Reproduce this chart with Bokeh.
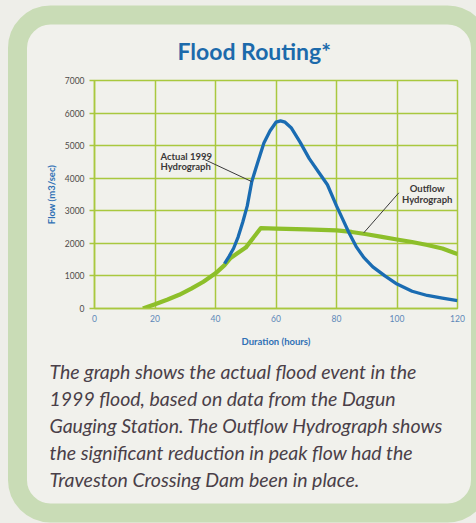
from urllib.parse import quote
from bokeh.plotting import figure
from bokeh.models import Label, FixedTicker, Range1d, Title
from bokeh.embed import file_html
from bokeh.resources import INLINE

# ---- data ----
hours_actual = [43, 44.5, 46, 47.5, 49, 50.5, 52, 54, 56, 58, 60, 61.5, 63, 65, 68, 71, 74, 77,
                80, 82, 84, 86.5, 89, 92, 96, 100, 105, 110, 115, 120]
flow_actual = [1380, 1600, 1850, 2200, 2650, 3150, 3900, 4500, 5080, 5450, 5720, 5760, 5720, 5550,
               5100, 4600, 4200, 3800, 3150, 2750, 2350, 1900, 1570, 1280, 1000, 750, 530, 400, 320, 240]
hours_outflow = [16, 20, 24, 28, 32, 36, 40, 43, 45, 47, 50, 55, 60, 70, 80, 85, 90, 95, 100, 105,
                 110, 115, 120]
flow_outflow = [0, 130, 270, 420, 610, 820, 1080, 1330, 1550, 1680, 1870, 2470, 2450, 2430, 2400,
                2350, 2280, 2200, 2120, 2040, 1950, 1840, 1670]
x_ticks = [0, 20, 40, 60, 80, 100, 120]
y_ticks = [0, 1000, 2000, 3000, 4000, 5000, 6000, 7000]

title_text = "Flood Routing*"
caption_lines = [
    "The graph shows the actual flood event in the",
    "1999 flood, based on data from the Dagun",
    "Gauging Station. The Outflow Hydrograph shows",
    "the significant reduction in peak flow had the",
    "Traveston Crossing Dam been in place.",
]

# ---- style ----
PAGE = "#eeeee9"
BG = "#f1f1ec"
BAND = "#c9dcb6"
GRID = "#a9c83e"
BLUE_LINE = "#1a6cb2"
GREEN_LINE = "#8dbf2a"
TITLE_BLUE = "#1c6aab"
LABEL_BLUE = "#2f70b5"
TEXT_DARK = "#4a3f48"
FONT = "Lato"

W, H = 476, 523
FRAME_L, FRAME_R, FRAME_T, FRAME_B = 94, 457, 80, 308

# pixel -> data helpers for in-frame annotations
def fx(px):
    return (px - FRAME_L) * 120.0 / (FRAME_R - FRAME_L)

def fy(py):
    return (FRAME_B - py) * 7000.0 / (FRAME_B - FRAME_T)

band_svg = (f"<svg xmlns='http://www.w3.org/2000/svg' width='{W}' height='{H}'>"
            f"<rect x='17.5' y='15' width='463' height='498' rx='33' ry='33' "
            f"fill='{BG}' stroke='{BAND}' stroke-width='19'/></svg>")

p = figure(width=W, height=H, x_range=Range1d(0, 120), y_range=Range1d(0, 7000),
           output_backend="svg", toolbar_location=None,
           min_border_left=FRAME_L, min_border_right=W - FRAME_R,
           min_border_top=FRAME_T, min_border_bottom=H - FRAME_B)
p.styles = {"background": f"{PAGE} url(\"data:image/svg+xml,{quote(band_svg)}\") no-repeat"}
p.background_fill_color = BG
p.border_fill_color = None
p.outline_line_color = GRID
p.outline_line_width = 1.5

p.xaxis.ticker = FixedTicker(ticks=x_ticks)
p.yaxis.ticker = FixedTicker(ticks=y_ticks)
for ax in (p.xaxis, p.yaxis):
    ax.axis_line_color = GRID
    ax.axis_line_width = 1.5
    ax.minor_tick_line_color = None
    ax.major_tick_line_color = GRID
    ax.major_tick_line_width = 1.5
    ax.major_label_text_font = FONT
    ax.major_label_text_font_size = "8.5px"
    ax.axis_label_text_font = FONT
    ax.axis_label_text_font_style = "bold"
    ax.axis_label_text_font_size = "9.5px"
    ax.axis_label_text_color = LABEL_BLUE
p.xaxis.major_tick_out = 0
p.xaxis.major_tick_in = 0
p.yaxis.major_tick_out = 5
p.yaxis.major_tick_in = 0
p.xaxis.major_label_standoff = 6
p.yaxis.major_label_standoff = 5
p.xaxis.major_label_text_color = "#5d88b8"
p.yaxis.major_label_text_color = "#4f4a48"
p.xaxis.axis_label = "Duration (hours)"
p.yaxis.axis_label = "Flow (m3/sec)"
p.xaxis.axis_label_standoff = 11
p.yaxis.axis_label_standoff = 5

p.xgrid.grid_line_color = GRID
p.ygrid.grid_line_color = GRID
p.xgrid.grid_line_width = 1.5
p.ygrid.grid_line_width = 1.5

# series
p.line(hours_outflow, flow_outflow, line_color=GREEN_LINE, line_width=4.2, line_join="round")
p.line(hours_actual, flow_actual, line_color=BLUE_LINE, line_width=3.3, line_join="round")

# annotation pointers
p.segment(x0=[fx(204), fx(398.3)], y0=[fy(159), fy(192.3)],
          x1=[fx(251), fx(363.3)], y1=[fy(181), fy(232.3)],
          line_color="#3a3a3a", line_width=1)

def ann(text, px, py, align):
    p.add_layout(Label(x=fx(px), y=fy(py), text=text, text_font=FONT, text_font_style="bold",
                       text_font_size="9.5px", text_color="#3b3838", text_align=align,
                       text_baseline="middle"))

ann("Actual 1999", 160, 155.5, "left")
ann("Hydrograph", 160, 165.5, "left")
ann("Outflow", 426.7, 188.3, "center")
ann("Hydrograph", 426.7, 199, "center")

# title (side panel above the frame)
p.add_layout(Title(text=title_text, align="left", offset=177 - FRAME_L, standoff=31,
                   text_font=FONT, text_font_style="bold", text_font_size="23px",
                   text_color=TITLE_BLUE), "above")

# spacer between the x axis and the caption
p.add_layout(Title(text=" ", align="left", standoff=3.5, text_font_size="1px",
                   text_color=BG), "below")

# caption (side panel below the frame)
for line in caption_lines:
    p.add_layout(Title(text=line, align="left", offset=49 - FRAME_L, standoff=2,
                       text_font=FONT, text_font_style="italic", text_font_size="19.5px",
                       text_color=TEXT_DARK), "below")

open("out.html", "w").write(file_html(p, INLINE))
